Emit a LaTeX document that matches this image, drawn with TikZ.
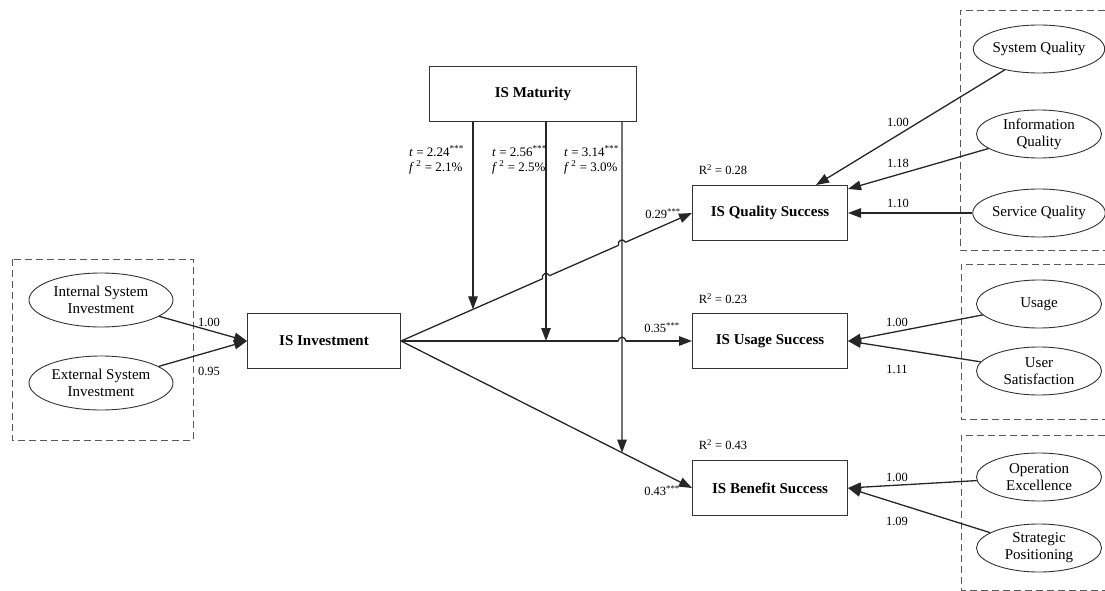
\documentclass[tikz,border=0pt]{standalone}
\usepackage{fontspec}
\setmainfont{Liberation Serif}
\usetikzlibrary{shapes.geometric,arrows.meta}

\begin{document}
\begin{tikzpicture}[x=1pt,y=-1pt,
	box/.style={draw=black!80,line width=1pt,minimum width=155pt,minimum height=55pt,inner sep=0pt,font=\fontsize{15}{18}\selectfont\bfseries},
	oval/.style={ellipse,draw=black!80,line width=0.9pt,inner sep=0pt,minimum width=125pt,minimum height=48pt,align=center,font=\fontsize{15}{17}\selectfont},
	arr/.style={draw=black!85,line width=1.3pt,-{Triangle[length=13pt,width=9.5pt]}},
	grp/.style={draw=black!65,line width=0.9pt,dash pattern=on 7pt off 4pt},
	val/.style={font=\fontsize{12.5}{15}\selectfont,inner sep=1pt},
	eff/.style={font=\fontsize{13}{15}\selectfont,align=left,anchor=west,inner sep=0pt}]
	\useasboundingbox (0,0) rectangle (1105,591);
	% dashed groups
	\draw[grp] (12,259) rectangle (193,440);
	\draw[grp] (1105,10) -| (960,250) -- (1105,250);
	\draw[grp] (1105,264) -| (961,419) -- (1105,419);
	\draw[grp] (1105,435) -| (961,590) -- (1105,590);
	% constructs
	\node[box,minimum width=207pt] (Mat) at (533,94) {IS Maturity};
	\node[box,minimum width=153pt] (Inv) at (324,341) {IS Investment};
	\node[box] (QS) at (770,213) {IS Quality Success};
	\node[box] (US) at (770,341) {IS Usage Success};
	\node[box] (BS) at (770,488) {IS Benefit Success};
	% indicators
	\node[oval,minimum width=144pt,minimum height=54pt] (ISI) at (101,300) {Internal System\\Investment};
	\node[oval,minimum width=144pt,minimum height=54pt] (ESI) at (101,383) {External System\\Investment};
	\node[oval] (SQ) at (1039,49) {System Quality};
	\node[oval] (IQ) at (1039,134) {Information\\Quality};
	\node[oval] (SvQ) at (1039,213) {Service Quality};
	\node[oval] (U) at (1039,304) {Usage};
	\node[oval] (USat) at (1039,371) {User\\Satisfaction};
	\node[oval] (OE) at (1039,477) {Operation\\Excellence};
	\node[oval] (SP) at (1039,548) {Strategic\\Positioning};
	% moderator lines
	\coordinate (M1) at ([xshift=44pt]Mat.south west);
	\coordinate (M2) at ([xshift=117pt]Mat.south west);
	\coordinate (M3) at ([xshift=193pt]Mat.south west);
	\coordinate (M1b) at (M1 |- BS.south);
	\coordinate (M2b) at (M2 |- BS.south);
	\coordinate (M3b) at (M3 |- BS.south);
	\coordinate (T1) at (intersection of M1--M1b and Inv.east--QS.west);
	\coordinate (T2) at (intersection of M2--M2b and Inv.east--US.west);
	\coordinate (T3) at (intersection of M3--M3b and Inv.east--BS.west);
	\coordinate (H1) at (intersection of M2--M2b and Inv.east--QS.west);
	\coordinate (H2) at (intersection of M3--M3b and Inv.east--QS.west);
	\coordinate (H3) at (intersection of M3--M3b and Inv.east--US.west);
	% paths
	\draw[arr] (ISI) -- (Inv.west);
	\draw[arr] (ESI) -- (Inv.west);
	\draw[arr] (Inv.east) -- (QS.west);
	\draw[arr] (Inv.east) -- (US.west);
	\draw[arr] (Inv.east) -- (BS.west);
	% line hops
	\foreach \P/\a in {H1/23.7,H2/23.7,H3/0}{
		\fill[white] (\P) circle (3.8pt);
		\draw[black!85,line width=1.3pt] ([shift={(\a+180:3.8pt)}]\P) arc[start angle=\a+180,end angle=\a,radius=3.8pt];
	}
	\draw[arr] (M1) -- (T1);
	\draw[arr] (M2) -- (T2);
	\draw[arr] (M3) -- (T3);
	\draw[arr] (SQ) -- ([xshift=-32pt]QS.north east);
	\draw[arr] (IQ) -- ([yshift=-4pt]QS.north east);
	\draw[arr] (SvQ) -- (QS.east);
	\draw[arr] (U) -- (US.east);
	\draw[arr] (USat) -- (US.east);
	\draw[arr] (OE) -- (BS.east);
	\draw[arr] (SP) -- (BS.east);
	% loadings and coefficients
	\node[val] (l1) at (209,322) {1.00};
	\node[val] (l2) at (209,371) {0.95};
	\node[val] (l3) at (898,122) {1.00};
	\node[val] (l4) at (898,163) {1.18};
	\node[val] (l5) at (898,203) {1.10};
	\node[val] (l6) at (897,322) {1.00};
	\node[val] (l7) at (897,369) {1.11};
	\node[val] (l8) at (897,477) {1.00};
	\node[val] (l9) at (897,521) {1.09};
	\node[val] (b1) at (663,214) {0.29\textsuperscript{***}};
	\node[val] (b2) at (662,328) {0.35\textsuperscript{***}};
	\node[val] (b3) at (662,491) {0.43\textsuperscript{***}};
	\node[val] (r1) at (723,170) {R\textsuperscript{2} = 0.28};
	\node[val] (r2) at (723,299) {R\textsuperscript{2} = 0.23};
	\node[val] (r3) at (723,445) {R\textsuperscript{2} = 0.43};
	\node[eff] (e1) at (409,160) {\textit{t} = 2.24\textsuperscript{***}\\\textit{f}\,\textsuperscript{2} = 2.1\%};
	\node[eff] (e2) at (492,160) {\textit{t} = 2.56\textsuperscript{***}\\\textit{f}\,\textsuperscript{2} = 2.5\%};
	\node[eff] (e3) at (564,160) {\textit{t} = 3.14\textsuperscript{***}\\\textit{f}\,\textsuperscript{2} = 3.0\%};
\end{tikzpicture}
\end{document}
